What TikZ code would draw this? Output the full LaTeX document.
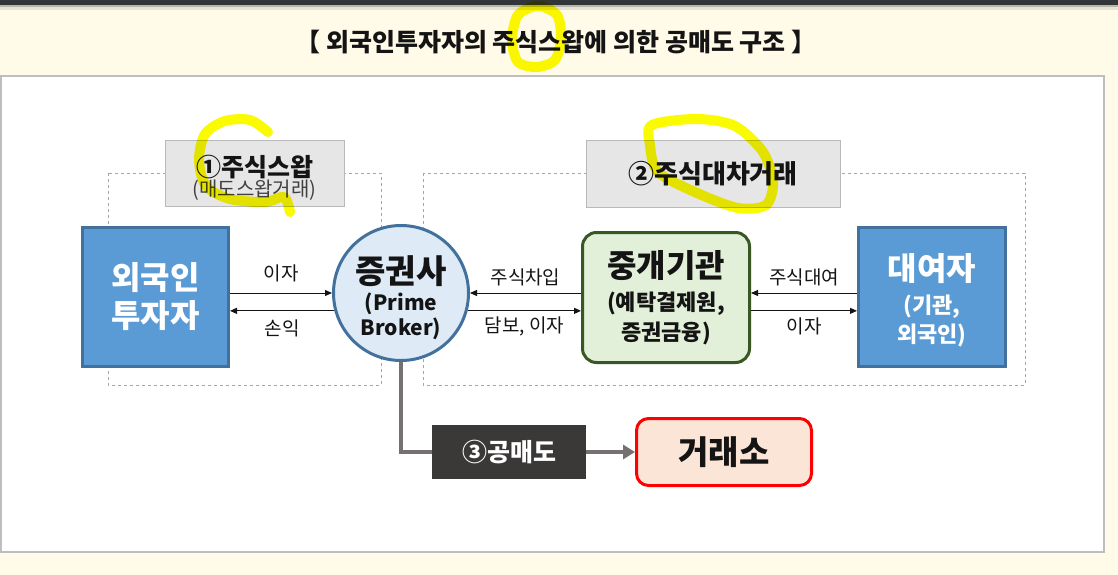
\documentclass[tikz,border=0pt]{standalone}
\usepackage{fontspec}
\setmainfont{Noto Sans CJK KR}
\usetikzlibrary{arrows.meta,positioning}
\definecolor{cream}{RGB}{255,251,232}
\definecolor{topbar}{RGB}{50,54,57}
\definecolor{panelline}{RGB}{190,190,190}
\definecolor{frameline}{RGB}{166,166,166}
\definecolor{tagfill}{RGB}{231,230,230}
\definecolor{tagline}{RGB}{185,185,185}
\definecolor{partyfill}{RGB}{91,155,213}
\definecolor{partyline}{RGB}{65,113,156}
\definecolor{brokerfill}{RGB}{222,235,247}
\definecolor{agentfill}{RGB}{226,240,217}
\definecolor{agentline}{RGB}{56,87,35}
\definecolor{shortfill}{RGB}{59,56,56}
\definecolor{xchgfill}{RGB}{251,229,214}
\definecolor{linkgrey}{RGB}{118,113,113}
\definecolor{ink}{RGB}{20,20,20}
\definecolor{subink}{RGB}{64,64,64}
\definecolor{marker}{RGB}{250,250,0}
\newcommand\fsz[2]{\fontsize{#1}{#2}\selectfont}
\tikzset{
  frame/.style={draw=frameline,dash pattern=on 3pt off 3pt,line width=0.8pt},
  tag/.style={draw=tagline,fill=tagfill,line width=1pt,align=center,text=ink,inner sep=0pt},
  party/.style={draw=partyline,fill=partyfill,line width=3pt,text=white,align=center,
    minimum width=146pt,minimum height=139pt,inner sep=0pt},
  broker/.style={circle,draw=partyline,fill=brokerfill,line width=3pt,minimum size=135pt,
    inner sep=0pt,align=center,text=ink,font=\bfseries\fsz{21}{25}},
  agent/.style={draw=agentline,fill=agentfill,line width=3pt,rounded corners=14pt,
    minimum width=167pt,minimum height=130pt,inner sep=0pt,align=center,text=ink,font=\bfseries\fsz{22}{30}},
  shortbox/.style={fill=shortfill,text=white,minimum width=154pt,minimum height=54pt,
    inner sep=0pt,font=\bfseries\fsz{25}{28}},
  xchg/.style={draw=red,fill=xchgfill,line width=3pt,rounded corners=12pt,
    minimum width=175pt,minimum height=67pt,inner sep=0pt,text=ink,font=\bfseries\fsz{33}{36}},
  arr/.style={-{Triangle[length=7pt,width=6pt]},line width=1pt,draw=ink},
  lab/.style={inner sep=0pt,text=ink,font=\fsz{19}{21}},
  link/.style={draw=linkgrey,line width=4pt},
  hilite/.style={draw=marker,line width=10pt,line cap=round,line join=round},
}
\begin{document}
\begin{tikzpicture}[x=1pt,y=-1pt]
% page
\fill[cream] (0,0) rectangle (1118,575);
\fill[topbar] (0,0) rectangle (1118,5);
\fill[topbar,opacity=0.35] (0,5) rectangle (1118,7);
\fill[topbar,opacity=0.12] (0,7) rectangle (1118,10);
\node[text=ink,font=\bfseries\fsz{25}{28}] (title) at (556,42) {【 외국인투자자의 주식스왑에 의한 공매도 구조 】};
\draw[fill=white,draw=panelline,line width=1.5pt] (1,76) rectangle (1104,552);

% dashed groups
\draw[frame] (108,173) rectangle (381,385);
\draw[frame] (423,173) rectangle (1025,385);
\node[tag,minimum width=179pt,minimum height=66pt] (swaptag) at (254.5,173)
  {\rule{0pt}{30pt}\bfseries\fsz{25}{26}①주식스왑\\[0pt]\fsz{20}{22}\color{subink}(매도스왑거래)};
\node[tag,minimum width=254pt,minimum height=67pt,font=\bfseries\fsz{26}{28}] (lendtag) at (713,173.5)
  {②주식대차거래};

% parties
\node[party,font=\bfseries\fsz{32}{38}] (foreign) at (155.5,297) {외국인\\투자자};
\node[broker] (prime) at (401,293) {\rule{0pt}{38pt}\fsz{33}{34}증권사\\[2pt](Prime\\Broker)};
\node[agent] (agent) at (666,297.5) {\fsz{32}{34}중개기관\\[3pt](예탁결제원,\\증권금융)};
\node[party,minimum width=147pt,font=\bfseries\fsz{22}{29}] (lender) at (932,297) {\rule{0pt}{34pt}\fsz{32}{34}대여자\\[4pt](기관,\\외국인)};

% flows
\draw[arr] (foreign.east |- prime.west) -- node[lab,above=11pt]{이자} (prime.west);
\draw[arr] (prime.195) -- node[lab,below=8pt]{손익} (foreign.east |- prime.195);
\draw[arr] (agent.west |- prime.east) -- node[lab,above=7pt]{주식차입} (prime.east);
\draw[arr] (prime.345) -- node[lab,below=5pt]{담보, 이자} (agent.west |- prime.345);
\draw[arr] (lender.west |- prime.east) -- node[lab,above=7pt]{주식대여} (agent.east |- prime.east);
\draw[arr] (agent.east |- prime.345) -- node[lab,below=6pt]{이자} (lender.west |- prime.345);

% short selling
\node[shortbox] (short) at (509,452) {③공매도};
\node[xchg] (exchange) at (724,452) {거래소};
\draw[link] (prime.south) |- (short.west);
\draw[link,-{Triangle[length=12pt,width=14pt]}] (short.east) -- (exchange.west);

% highlighter marks
\begin{scope}[blend mode=multiply]
\draw[hilite] plot[smooth cycle] coordinates {(538,6) (557,15) (561,38) (555,60) (537,67) (518,62) (512,40) (518,15)};
\draw[hilite] plot[smooth] coordinates {(268,132) (250,120) (225,121) (205,134) (199,160) (206,186) (230,199) (265,202) (284,197) (290,212)};
\draw[hilite] plot[smooth cycle] coordinates {(652,125) (697,119) (735,126) (763,152) (773,182) (766,205) (738,208) (697,193) (658,172) (650,145)};
\end{scope}
\end{tikzpicture}
\end{document}
